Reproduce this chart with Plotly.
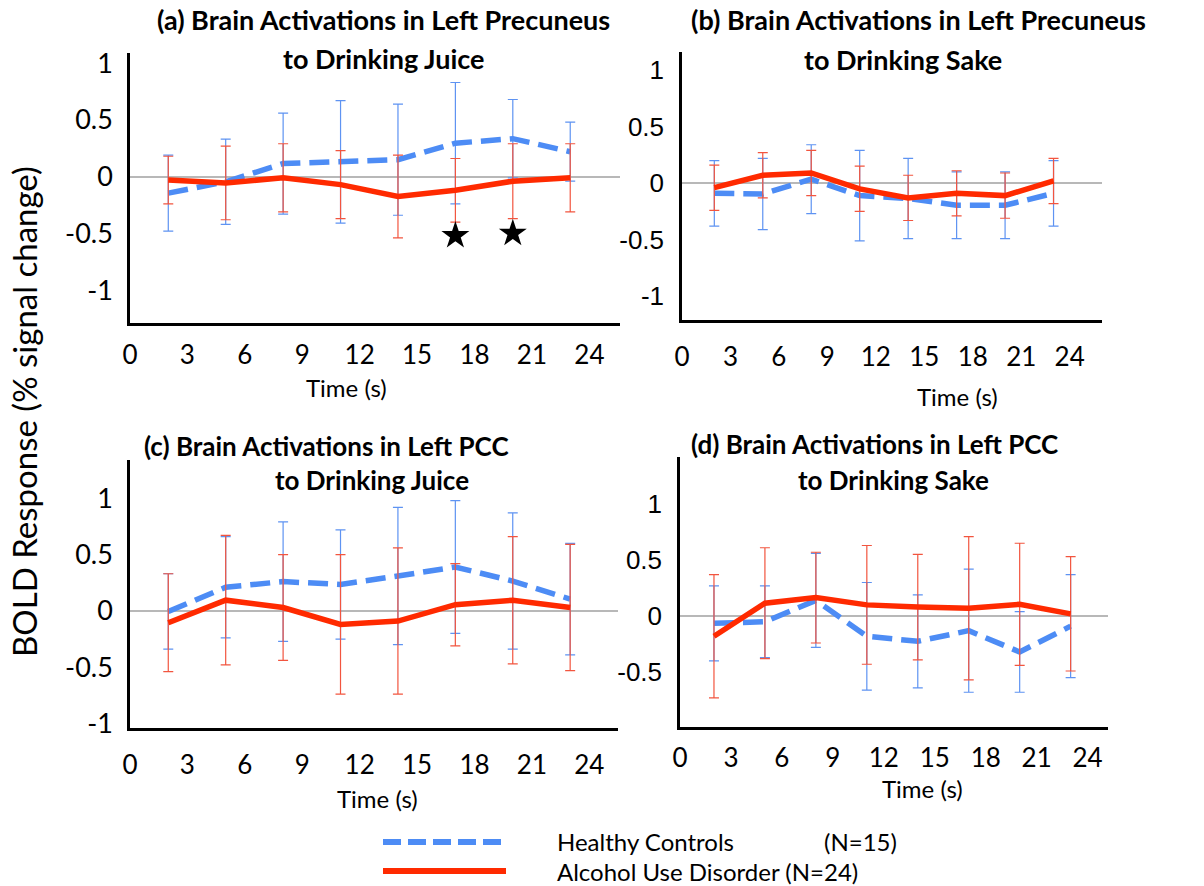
import plotly.graph_objects as go

# ---------------- data ----------------
time_s = [2, 5, 8, 11, 14, 17, 20, 23]
x_ticks = [0, 3, 6, 9, 12, 15, 18, 21, 24]
y_ticks = [-1, -0.5, 0, 0.5, 1]
y_tick_text = ["-1", "-0.5", "0", "0.5", "1"]

# (a) Left Precuneus, Juice
a_hc_mean = [-0.145, -0.045, 0.115, 0.13, 0.15, 0.295, 0.335, 0.22]
a_hc_err = [0.335, 0.375, 0.445, 0.54, 0.49, 0.535, 0.345, 0.26]
a_aud_mean = [-0.03, -0.055, -0.01, -0.07, -0.175, -0.12, -0.04, -0.01]
a_aud_err = [0.21, 0.325, 0.30, 0.30, 0.365, 0.28, 0.33, 0.30]
a_star_x = [17, 20]
a_star_y = [-0.52, -0.50]

# (b) Left Precuneus, Sake
b_hc_mean = [-0.09, -0.095, 0.035, -0.11, -0.135, -0.195, -0.195, -0.09]
b_hc_err = [0.29, 0.315, 0.305, 0.40, 0.355, 0.295, 0.295, 0.29]
b_aud_mean = [-0.04, 0.07, 0.09, -0.05, -0.13, -0.09, -0.11, 0.02]
b_aud_err = [0.20, 0.20, 0.20, 0.20, 0.20, 0.20, 0.20, 0.20]

# (c) Left PCC, Juice
c_hc_mean = [-0.005, 0.21, 0.26, 0.235, 0.31, 0.39, 0.265, 0.105]
c_hc_err = [0.335, 0.45, 0.53, 0.485, 0.61, 0.59, 0.605, 0.495]
c_aud_mean = [-0.105, 0.095, 0.03, -0.12, -0.09, 0.055, 0.095, 0.03]
c_aud_err = [0.435, 0.575, 0.47, 0.62, 0.65, 0.365, 0.565, 0.56]

# (d) Left PCC, Sake
d_hc_mean = [-0.065, -0.05, 0.14, -0.18, -0.225, -0.13, -0.32, -0.09]
d_hc_err = [0.335, 0.32, 0.42, 0.48, 0.415, 0.55, 0.36, 0.46]
d_aud_mean = [-0.18, 0.115, 0.165, 0.10, 0.08, 0.07, 0.105, 0.02]
d_aud_err = [0.55, 0.495, 0.405, 0.53, 0.47, 0.64, 0.545, 0.51]

titles_l1 = ["(a) Brain Activations in Left Precuneus",
             "(b) Brain Activations in Left Precuneus",
             "(c) Brain Activations in Left PCC",
             "(d) Brain Activations in Left PCC"]
titles_l2 = ["to Drinking Juice", "to Drinking Sake",
             "to Drinking Juice", "to Drinking Sake"]
x_title = "Time (s)"
y_title = "BOLD Response (% signal change)"
legend_names = ["Healthy Controls", "(N=15)", "Alcohol Use Disorder (N=24)"]

# ---------------- styling / layout ----------------
W, H = 1204, 886
BLUE = "#4d8cf5"
RED = "#ff2a00"
BLUE_ERR = "#5e93f2"
RED_ERR = "#f2553f"

def px(v):
    return v / W

def py(v):
    return 1 - v / H

panels_geo = [
    dict(xd=(130, 620), xmax=25.6, yd=(53, 323), yr=(-1.29, 1.09), xtl=7, ytl=9,
         yfont=dict(family="Lato", size=27, color="black")),
    dict(xd=(682, 1102), xmax=26.0, yd=(52, 320), yr=(-1.21, 1.16), xtl=12, ytl=10,
         yfont=dict(family="Liberation Sans", size=26, color="black")),
    dict(xd=(130, 618), xmax=25.5, yd=(460, 728), yr=(-1.04, 1.34), xtl=12, ytl=9,
         yfont=dict(family="Lato", size=27, color="black")),
    dict(xd=(680, 1108), xmax=25.2, yd=(457, 727), yr=(-0.99, 1.42), xtl=6, ytl=10,
         yfont=dict(family="Liberation Sans", size=26, color="black")),
]
series = [
    (a_hc_mean, a_hc_err, a_aud_mean, a_aud_err),
    (b_hc_mean, b_hc_err, b_aud_mean, b_aud_err),
    (c_hc_mean, c_hc_err, c_aud_mean, c_aud_err),
    (d_hc_mean, d_hc_err, d_aud_mean, d_aud_err),
]
title_pos = [((383, 20), (384, 58)), ((918, 20), (903, 59)),
             ((327, 446), (372, 480)), ((874, 444), (893, 480))]
title_size = [27, 27, 26, 26]
xtitle_pos = [(347, 388), (957, 396), (377, 798), (922, 788)]

fig = go.Figure()
layout = dict(width=W, height=H,
              margin=dict(l=0, r=0, t=0, b=0, pad=0, autoexpand=False),
              paper_bgcolor="white", plot_bgcolor="white", showlegend=False,
              font=dict(family="Lato", color="black"))

annotations = []
for i, (geo, (hm, he, am, ae)) in enumerate(zip(panels_geo, series)):
    n = "" if i == 0 else str(i + 1)
    xa, ya = "x" + n, "y" + n
    fig.add_trace(go.Scatter(
        x=time_s, y=hm, mode="lines", xaxis=xa, yaxis=ya, cliponaxis=False,
        line=dict(color=BLUE, width=5.5, dash="20px,9px"),
        error_y=dict(type="data", array=he, visible=True, color=BLUE_ERR,
                     thickness=1.2, width=5),
        name="Healthy Controls"))
    fig.add_trace(go.Scatter(
        x=time_s, y=am, mode="lines", xaxis=xa, yaxis=ya, cliponaxis=False,
        line=dict(color=RED, width=5.5),
        error_y=dict(type="data", array=ae, visible=True, color=RED_ERR,
                     thickness=1.2, width=5),
        name="Alcohol Use Disorder"))
    layout["xaxis" + n] = dict(
        domain=[px(geo["xd"][0]), px(geo["xd"][1])], range=[0, geo["xmax"]],
        anchor=ya, tickmode="array", tickvals=x_ticks, automargin=False,
        ticks="outside", ticklen=geo["xtl"], tickcolor="rgba(0,0,0,0)",
        showline=True, linecolor="black", linewidth=2.5,
        showgrid=False, zeroline=False,
        tickfont=dict(family="Lato", size=26, color="black"))
    layout["yaxis" + n] = dict(
        domain=[py(geo["yd"][1]), py(geo["yd"][0])], range=list(geo["yr"]),
        anchor=xa, tickmode="array", tickvals=y_ticks, ticktext=y_tick_text,
        automargin=False,
        ticks="outside", ticklen=geo["ytl"], tickcolor="rgba(0,0,0,0)",
        showline=True, linecolor="black", linewidth=2.5,
        showgrid=False, zeroline=True, zerolinecolor="#b8b8b8",
        zerolinewidth=1.5, tickfont=geo["yfont"])
    (t1x, t1y), (t2x, t2y) = title_pos[i]
    for txt, tx_, ty_ in ((titles_l1[i], t1x, t1y), (titles_l2[i], t2x, t2y)):
        annotations.append(dict(text="<b>%s</b>" % txt, x=px(tx_), y=py(ty_),
                                xref="paper", yref="paper", showarrow=False,
                                xanchor="center", yanchor="middle",
                                font=dict(family="Lato", size=title_size[i], color="black")))
    tx, ty = xtitle_pos[i]
    annotations.append(dict(text=x_title, x=px(tx), y=py(ty), xref="paper", yref="paper",
                            showarrow=False, xanchor="center", yanchor="middle",
                            font=dict(family="Lato", size=24, color="black")))

# significance stars in panel (a)
fig.add_trace(go.Scatter(x=a_star_x, y=a_star_y, mode="markers", xaxis="x", yaxis="y",
                         marker=dict(symbol="star", size=21, color="black"),
                         name="p<0.05"))

annotations.append(dict(text=y_title, x=px(24), y=py(412), xref="paper", yref="paper",
                        showarrow=False, textangle=-90, xanchor="center", yanchor="middle",
                        font=dict(family="Lato", size=33, color="black")))

shapes = [
    dict(type="line", xref="paper", yref="paper", x0=px(383), x1=px(506),
         y0=py(842), y1=py(842), line=dict(color=BLUE, width=6, dash="18px,7px")),
    dict(type="line", xref="paper", yref="paper", x0=px(383), x1=px(506),
         y0=py(871), y1=py(871), line=dict(color=RED, width=6)),
]
for txt, lx, ly in ((legend_names[0], 555, 841), (legend_names[1], 822, 841),
                    (legend_names[2], 555, 871)):
    annotations.append(dict(text=txt, x=px(lx), y=py(ly), xref="paper", yref="paper",
                            showarrow=False, xanchor="left", yanchor="middle",
                            font=dict(family="Lato", size=24, color="black")))

layout["annotations"] = annotations
layout["shapes"] = shapes
fig.update_layout(**layout)
fig.write_html("out.html", config={"displayModeBar": False},
               post_script="document.body.style.margin='0';document.body.style.padding='0';")
